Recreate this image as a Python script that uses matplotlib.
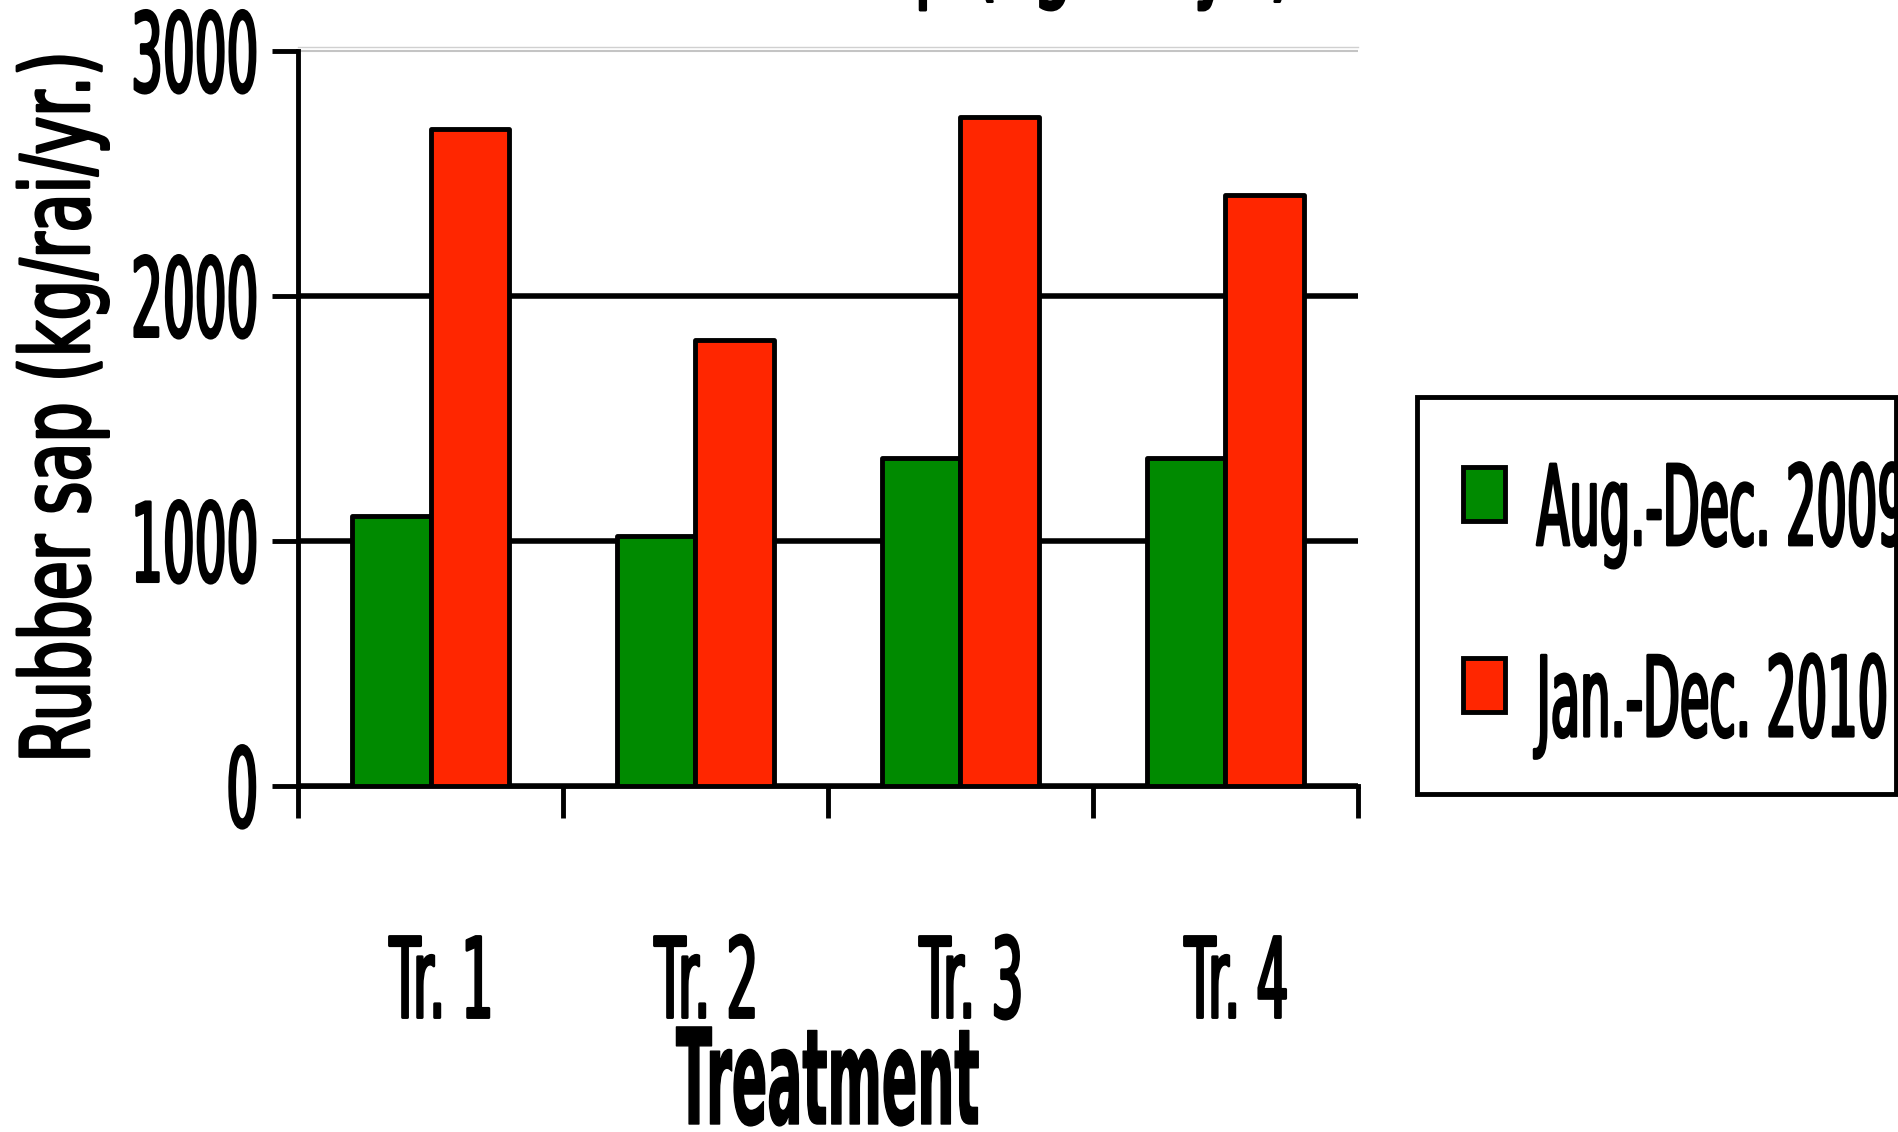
import matplotlib
matplotlib.use("Agg")
import numpy as np
import matplotlib.pyplot as plt
from matplotlib import patheffects
from matplotlib.transforms import Affine2D
from matplotlib.ticker import FixedLocator, NullFormatter, FixedFormatter
from matplotlib.patches import Rectangle
from matplotlib.legend_handler import HandlerPatch

# ---- data -------------------------------------------------------------
categories = ["Tr. 1", "Tr. 2", "Tr. 3", "Tr. 4"]
aug_dec_2009 = [1100, 1020, 1340, 1340]
jan_dec_2010 = [2680, 1820, 2730, 2410]
series_labels = ["Aug.-Dec. 2009", "Jan.-Dec. 2010"]
y_ticks = [0, 1000, 2000, 3000]
y_tick_labels = ["0", "1000", "2000", "3000"]
title_text = "Rubber sap (kg/rai/yr.)"
y_title = "Rubber sap (kg/rai/yr.)"
x_title = "Treatment"

GREEN = "#008a00"
RED = "#ff2600"


class TallGlyphs(patheffects.AbstractPathEffect):
    """Stretch glyphs vertically (in font units, em = 100) about height cy,
    optionally thickening them with a stroke of the text colour."""

    def __init__(self, sy=1.0, cy=0.0, thicken=0.0, offset=(0, 0)):
        super().__init__(offset)
        self.sy = sy
        self.cy = cy
        self.thicken = thicken

    def draw_path(self, renderer, gc, tpath, affine, rgbFace=None):
        stretch = (Affine2D().translate(0, -self.cy)
                   .scale(1, self.sy).translate(0, self.cy))
        gc0 = renderer.new_gc()
        gc0.copy_properties(gc)
        if self.thicken and rgbFace is not None:
            gc0.set_linewidth(self.thicken)
            gc0.set_foreground(rgbFace)
            gc0.set_joinstyle("round")
        renderer.draw_path(gc0, tpath,
                           stretch + affine + self._offset_transform(renderer),
                           rgbFace)
        gc0.restore()


def legend_swatch(legend, orig_handle, xdescent, ydescent, width, height,
                  fontsize):
    return Rectangle((-xdescent, -0.153 * fontsize), width, 1.127 * fontsize)


W, H = 1898, 1132
fig = plt.figure(figsize=(W / 100, H / 100), dpi=100)
ax = fig.add_axes([298 / W, (H - 786) / H, 1060 / W, 739 / H])

idx = np.arange(1, len(categories) + 1)
bw = 0.295
b1 = ax.bar(idx - bw / 2, aug_dec_2009, bw, color=GREEN, edgecolor="black",
            linewidth=3.5, zorder=3)
b2 = ax.bar(idx + bw / 2, jan_dec_2010, bw, color=RED, edgecolor="black",
            linewidth=3.5, zorder=3)
for p in list(b1) + list(b2):
    p.set_joinstyle("round")

ax.set_xlim(0.5, len(categories) + 0.5)
ax.set_ylim(0, 3016)

# spines
ax.spines["right"].set_visible(False)
ax.spines["top"].set_color("#d0d0d0")
ax.spines["top"].set_linewidth(1.0)
ax.spines["left"].set_linewidth(3.5)
ax.spines["bottom"].set_linewidth(3.5)
ax.spines["left"].set_bounds(0, 3000)

# y axis
ax.set_yticks(y_ticks)
ax.set_yticklabels(y_tick_labels)
ax.tick_params(axis="y", which="major", direction="out", length=18.7,
               width=3.5, pad=10, labelsize=36)
ax.set_axisbelow(True)
ax.yaxis.grid(True, color="black", linewidth=4)

# x axis: boundary ticks and centred category labels
ax.xaxis.set_major_locator(FixedLocator(np.arange(0.5, len(categories) + 0.6, 1)))
ax.xaxis.set_major_formatter(NullFormatter())
ax.xaxis.set_minor_locator(FixedLocator(idx))
ax.xaxis.set_minor_formatter(FixedFormatter(categories))
ax.tick_params(axis="x", which="major", direction="out", length=23, width=3.5)
ax.tick_params(axis="x", which="minor", length=0, pad=106.8, labelsize=36.4)

ax.set_ylabel(y_title, fontsize=45.8)
ax.yaxis.set_label_coords(-0.185, 0.513)
ax.set_xlabel(x_title, fontsize=37.6, fontweight="bold", va="baseline")
ax.xaxis.set_label_coords(0.5, -(1124 - 786) / 739)

title = fig.text(0.5, 1 + 13 / H, title_text, ha="center", va="baseline",
                 fontsize=44.4)

leg = ax.legend([b1[0], b2[0]], series_labels, loc="upper left",
                bbox_to_anchor=(1417 / W, 1 - 397 / H, 479 / W, 0),
                bbox_transform=fig.transFigure, mode="expand",
                borderaxespad=0, fontsize=34.5, handlelength=0.877,
                handleheight=3.285, handletextpad=0.66, labelspacing=1.61,
                borderpad=0.96, fancybox=False, frameon=True,
                edgecolor="black", framealpha=1,
                handler_map={Rectangle: HandlerPatch(patch_func=legend_swatch)})
leg.get_frame().set_linewidth(3.5)

fig.canvas.draw()

for tk in ax.yaxis.get_major_ticks():
    if abs(tk.get_loc() - 3000) < 1:
        tk.gridline.set_color("#c4c4c4")
        tk.gridline.set_linewidth(1.5)

for lbl in ax.get_yticklabels():
    lbl.set_path_effects([TallGlyphs(2.19, cy=36.45, thicken=2)])
for lbl in ax.get_xticklabels(minor=True):
    lbl.set_path_effects([TallGlyphs(2.2, cy=72.9, thicken=2, offset=(8, 0))])
ax.yaxis.label.set_path_effects([TallGlyphs(1.49, cy=0, thicken=2)])
ax.xaxis.label.set_path_effects([TallGlyphs(2.55, cy=0, thicken=1)])
title.set_path_effects([TallGlyphs(1.8, cy=0, thicken=2)])
for t in leg.get_texts():
    t.set_path_effects([TallGlyphs(2.32, cy=49.5, thicken=2)])

fig.savefig("out.png", dpi=100)
